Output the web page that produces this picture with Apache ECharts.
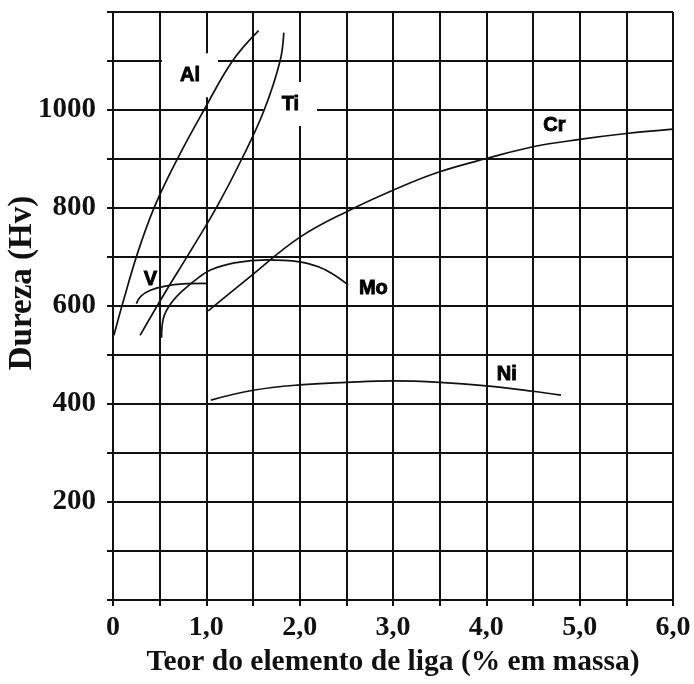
<!DOCTYPE html>
<html>
<head>
<meta charset="utf-8">
<script src="https://cdn.jsdelivr.net/npm/echarts@6/dist/echarts.min.js"></script>
<style>
  html, body { margin: 0; padding: 0; background: #fff; }
  #chart { width: 694px; height: 684px; }
</style>
</head>
<body>
<div id="chart"></div>
<script>
// Hardness (Hv) of ferrite versus alloying element content (mass %)
const alData = [[0.01, 540], [0.1, 603], [0.27, 712], [0.45, 805], [0.70, 904], [0.975, 1000], [1.28, 1100], [1.56, 1162]];
const tiData = [[0.29, 540], [0.55, 625], [0.83, 712], [1.12, 805], [1.38, 900], [1.62, 1000], [1.79, 1100], [1.83, 1158]];
const vData = [[0.25, 605], [0.3, 620], [0.4, 632], [0.55, 640], [0.75, 645], [1.0, 646]];
const moData = [[0.52, 535], [0.54, 575], [0.62, 605], [0.75, 632], [0.93, 660], [1.05, 674], [1.3, 688], [1.65, 694], [2.0, 690], [2.2, 680], [2.35, 666], [2.52, 643]];
const crData = [[1.02, 590], [1.47, 660], [2.0, 740], [2.54, 796], [3.08, 843], [3.5, 874], [4.0, 901], [4.5, 925], [5.0, 940], [5.5, 952], [6.0, 961]];
const niData = [[1.05, 408], [1.5, 428], [2.0, 439], [2.5, 444], [3.0, 447], [3.5, 444], [4.0, 437], [4.5, 426], [4.8, 418]];

// Curve labels and where they sit
const curveNames = ['Al', 'Ti', 'V', 'Mo', 'Cr', 'Ni'];
const curveLabelPos = [[0.825, 1071], [1.90, 1012], [0.40, 655], [2.79, 635], [4.73, 969], [4.22, 461]];
const boxedNames = ['Al', 'Ti'];

const xTitle = 'Teor do elemento de liga (% em massa)';
const yTitle = 'Dureza (Hv)';

const ink = '#111';
const serif = '"Liberation Serif", "Times New Roman", serif';
const sans = '"Liberation Sans", Arial, sans-serif';

const curves = [alData, tiData, vData, moData, crData, niData];

const lineSeries = curves.map((d, i) => ({
  name: curveNames[i],
  type: 'line',
  data: d,
  smooth: 0.4,
  showSymbol: false,
  silent: true,
  z: 5,
  lineStyle: { color: ink, width: 1.7 }
}));

const labelSeries = {
  type: 'scatter',
  z: 2,
  silent: true,
  symbolSize: 0,
  itemStyle: { opacity: 1 },
  data: curveNames.map((n, i) => {
    const boxed = boxedNames.includes(n);
    return {
      name: n,
      value: curveLabelPos[i],
      label: {
        show: true,
        position: 'inside',
        formatter: n,
        fontFamily: sans,
        fontWeight: 'bold',
        fontSize: 20,
        color: '#000',
        textBorderColor: '#000',
        textBorderWidth: 0.9,
        opacity: 1,
        backgroundColor: boxed ? '#fff' : 'transparent',
        padding: boxed ? [12, 18, 12, 18] : 0
      }
    };
  })
};

const chart = echarts.init(document.getElementById('chart'), null, { renderer: 'canvas' });
chart.setOption({
  animation: false,
  backgroundColor: '#fff',
  grid: { left: 113, right: 21, top: 12, bottom: 84 },
  xAxis: {
    type: 'value',
    min: 0,
    max: 6,
    interval: 0.5,
    name: xTitle,
    nameLocation: 'middle',
    nameGap: 45,
    nameTextStyle: { fontFamily: serif, fontWeight: 'bold', fontSize: 29.5, color: ink },
    axisLine: { show: true, lineStyle: { color: ink, width: 2 } },
    axisTick: { show: true, inside: false, length: 6, lineStyle: { color: ink, width: 2 } },
    splitLine: { show: true, lineStyle: { color: ink, width: 2 } },
    axisLabel: {
      margin: 14,
      fontFamily: serif,
      fontWeight: 'bold',
      fontSize: 28,
      color: ink,
      formatter: v => (Math.abs(v % 1) < 1e-6 ? (v === 0 ? '0' : v.toFixed(1).replace('.', ',')) : '')
    }
  },
  yAxis: {
    type: 'value',
    min: 0,
    max: 1200,
    interval: 100,
    axisLine: { show: true, lineStyle: { color: ink, width: 2 } },
    axisTick: { show: true, inside: false, length: 6, lineStyle: { color: ink, width: 2 } },
    splitLine: { show: true, lineStyle: { color: ink, width: 2 } },
    axisLabel: {
      margin: 17,
      fontFamily: serif,
      fontWeight: 'bold',
      fontSize: 29,
      color: ink,
      formatter: v => (v > 0 && v < 1200 && v % 200 === 0 ? String(v) : '')
    }
  },
  graphic: [{
    type: 'text',
    x: 22,
    y: 283,
    rotation: Math.PI / 2,
    style: {
      text: yTitle,
      fontFamily: serif,
      fontWeight: 'bold',
      fontSize: 33,
      fill: ink,
      align: 'center',
      verticalAlign: 'middle'
    }
  }],
  series: [...lineSeries, labelSeries]
});
</script>
</body>
</html>
